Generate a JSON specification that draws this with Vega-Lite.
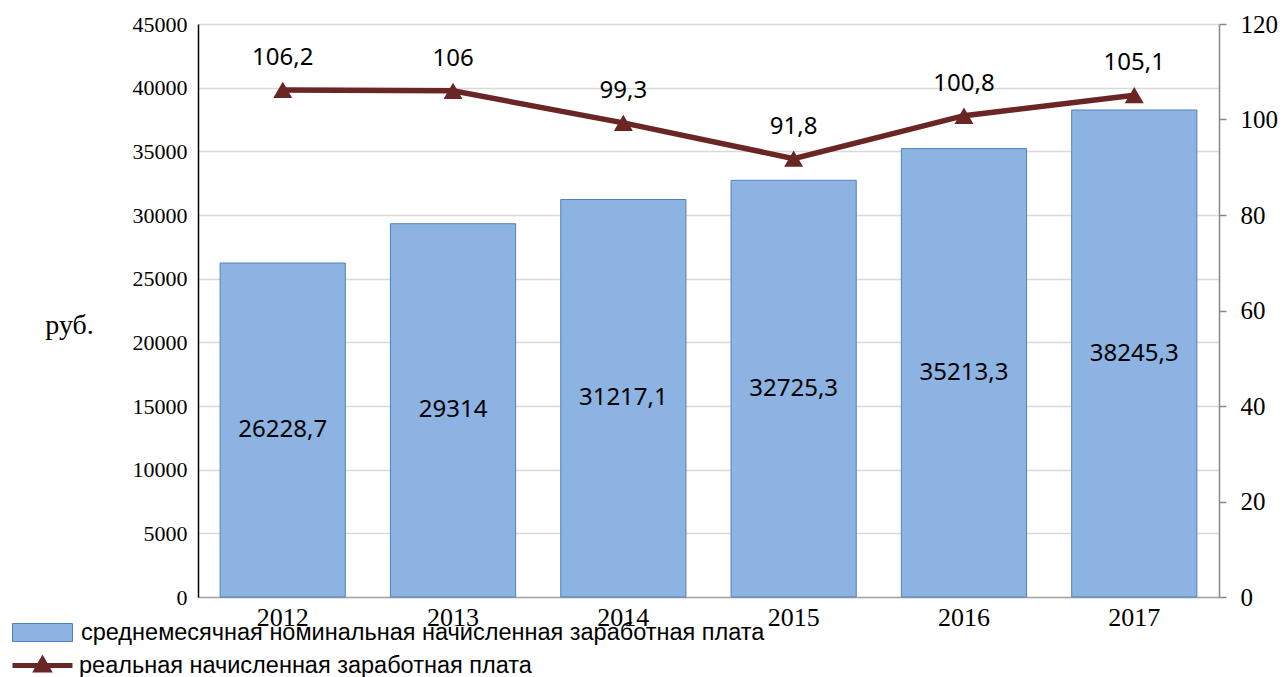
{
  "$schema": "https://vega.github.io/schema/vega-lite/v6.json",
  "width": 1021,
  "height": 573,
  "autosize": {"type": "none"},
  "padding": {"left": 198, "top": 24, "right": 64, "bottom": 80},
  "background": "white",
  "config": {
    "view": {"stroke": null},
    "legend": {"padding": 0}
  },
  "data": {
    "values": [
      {"year": "2012", "nominal": 26228.7, "nlabel": "26228,7", "real": 106.2, "rlabel": "106,2"},
      {"year": "2013", "nominal": 29314, "nlabel": "29314", "real": 106, "rlabel": "106"},
      {"year": "2014", "nominal": 31217.1, "nlabel": "31217,1", "real": 99.3, "rlabel": "99,3"},
      {"year": "2015", "nominal": 32725.3, "nlabel": "32725,3", "real": 91.8, "rlabel": "91,8"},
      {"year": "2016", "nominal": 35213.3, "nlabel": "35213,3", "real": 100.8, "rlabel": "100,8"},
      {"year": "2017", "nominal": 38245.3, "nlabel": "38245,3", "real": 105.1, "rlabel": "105,1"}
    ]
  },
  "encoding": {
    "x": {
      "field": "year",
      "type": "ordinal",
      "scale": {"paddingInner": 0.265, "paddingOuter": 0.13},
      "axis": {
        "title": null,
        "labelAngle": 0,
        "labelFont": "Liberation Serif",
        "labelFontSize": 26,
        "labelColor": "black",
        "labelPadding": 7,
        "ticks": false,
        "domainColor": "#A6A6A6",
        "domainWidth": 1.5
      }
    }
  },
  "layer": [
    {
      "mark": {"type": "bar", "stroke": "#4F81BD", "strokeWidth": 1},
      "encoding": {
        "y": {
          "field": "nominal",
          "type": "quantitative",
          "scale": {"domain": [0, 45000]},
          "axis": {
            "title": "руб.",
            "titleAngle": 0,
            "titleX": -129,
            "titleY": 301,
            "titleAlign": "center",
            "titleBaseline": "middle",
            "titleFont": "Liberation Serif",
            "titleFontSize": 28,
            "titleFontWeight": "normal",
            "titleColor": "black",
            "values": [0, 5000, 10000, 15000, 20000, 25000, 30000, 35000, 40000, 45000],
            "format": "d",
            "labelFont": "Liberation Serif",
            "labelFontSize": 22,
            "labelColor": "black",
            "labelPadding": 11,
            "tickSize": 0,
            "ticks": false,
            "domainColor": "black",
            "domainWidth": 1.5,
            "grid": true,
            "gridColor": "#D9D9D9",
            "gridWidth": 1.5
          }
        },
        "fill": {
          "datum": "среднемесячная номинальная начисленная  заработная плата",
          "type": "nominal",
          "scale": {"range": ["#8DB3E2"]},
          "legend": {
            "title": null,
            "orient": "none",
            "legendX": -186,
            "legendY": 578,
            "symbolType": "M-1,-0.3H1V0.3H-1Z",
            "symbolSize": 3600,
            "symbolStrokeColor": "#4F81BD",
            "symbolStrokeWidth": 1,
            "labelFont": "Liberation Sans",
            "labelFontSize": 23.5,
            "labelColor": "black",
            "labelOffset": 8,
            "labelLimit": 900
          }
        }
      }
    },
    {
      "mark": {"type": "text", "font": "Noto Sans", "fontSize": 24, "baseline": "middle", "color": "black"},
      "encoding": {
        "y": {"field": "nominal", "type": "quantitative", "scale": {"domain": [0, 90000]}, "axis": null},
        "text": {"field": "nlabel"}
      }
    },
    {
      "mark": {"type": "line", "strokeWidth": 5.5},
      "encoding": {
        "y": {
          "field": "real",
          "type": "quantitative",
          "scale": {"domain": [0, 120]},
          "axis": {
            "orient": "right",
            "title": null,
            "values": [0, 20, 40, 60, 80, 100, 120],
            "labelFont": "Liberation Serif",
            "labelFontSize": 25,
            "labelColor": "black",
            "labelPadding": 14,
            "tickSize": 7,
            "tickColor": "#888888",
            "tickWidth": 1.5,
            "domainColor": "#888888",
            "domainWidth": 1.5,
            "grid": false
          }
        },
        "stroke": {
          "datum": "реальная начисленная заработная плата",
          "type": "nominal",
          "scale": {"range": ["#6A2525"]},
          "legend": {
            "title": null,
            "orient": "none",
            "legendX": -188,
            "legendY": 609,
            "symbolType": "M-1,0H1M0,-0.2L0.2,0.15L-0.2,0.15Z",
            "symbolSize": 3600,
            "symbolStrokeWidth": 5,
            "labelFont": "Liberation Sans",
            "labelFontSize": 23.5,
            "labelColor": "black",
            "labelOffset": 4,
            "labelLimit": 900,
            "encode": {"symbols": {"update": {"fill": {"value": "#6A2525"}, "opacity": {"value": 1}}}}
          }
        }
      }
    },
    {
      "mark": {"type": "point", "shape": "triangle-up", "size": 360, "filled": true, "color": "#6A2525", "opacity": 1},
      "encoding": {
        "y": {"field": "real", "type": "quantitative", "scale": {"domain": [0, 120]}, "axis": null}
      }
    },
    {
      "mark": {"type": "text", "font": "Noto Sans", "fontSize": 24, "baseline": "middle", "dy": -32, "color": "black"},
      "encoding": {
        "y": {"field": "real", "type": "quantitative", "scale": {"domain": [0, 120]}, "axis": null},
        "text": {"field": "rlabel"}
      }
    }
  ],
  "resolve": {"scale": {"y": "independent"}}
}
